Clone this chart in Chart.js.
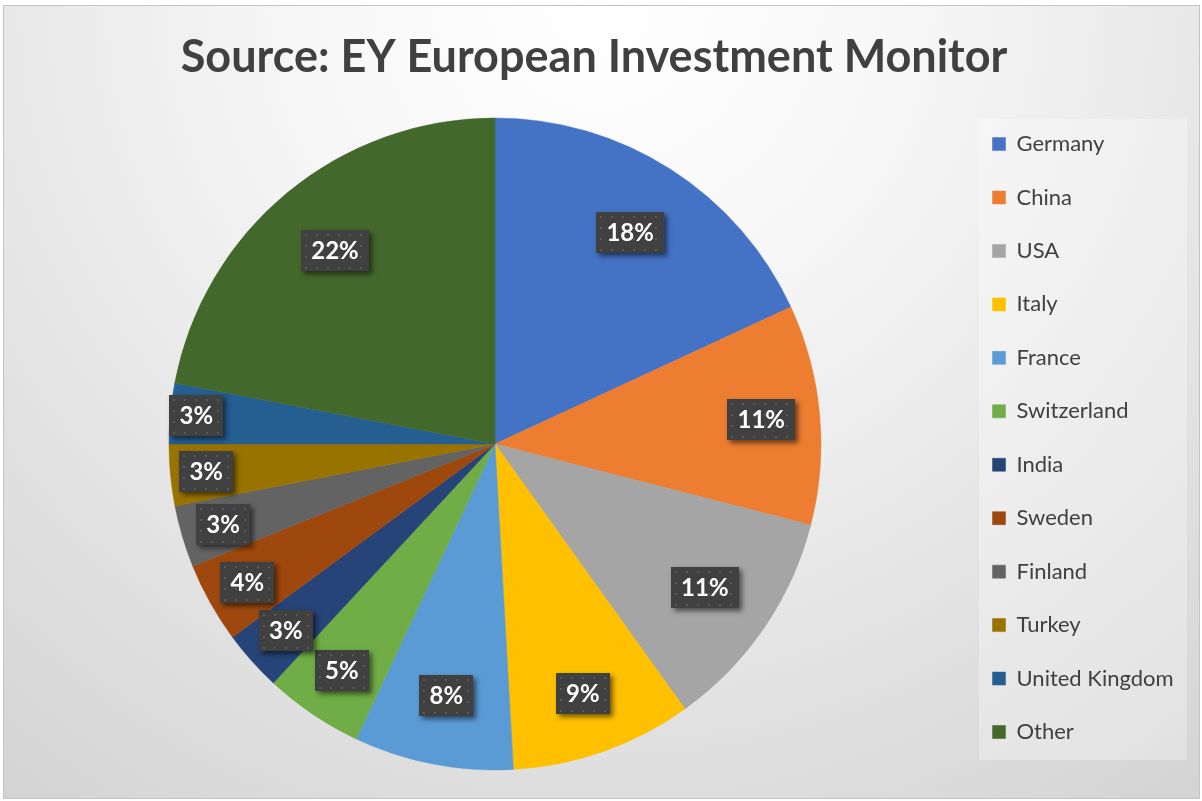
<!DOCTYPE html>
<html><head><meta charset="utf-8">
<script src="https://cdn.jsdelivr.net/npm/chart.js@4.4.1/dist/chart.umd.min.js"></script>
<style>html,body{margin:0;padding:0;background:#fff;overflow:hidden}canvas{display:block}</style>
</head><body>
<canvas id="c" width="1202" height="801"></canvas>
<script>
const titleText = 'Source: EY European Investment Monitor';
const countries = ['Germany','China','USA','Italy','France','Switzerland','India','Sweden','Finland','Turkey','United Kingdom','Other'];
const shares = [18.1, 10.9, 11.1, 9.0, 7.9, 4.9, 3.0, 4.0, 3.05, 3.05, 3.0, 22.0];
const sliceColors = ['#4472C4','#ED7D31','#A5A5A5','#FFC000','#5B9BD5','#70AD47','#264478','#9E480E','#636363','#997300','#255E91','#43682B'];
const labelRadius = [0.77, 0.82, 0.78, 0.81, 0.785, 0.84, 0.86, 0.87, 0.87, 0.89, 0.92, 0.77];

const bgPlugin = {
  id: 'bg',
  afterLayout(chart) {
    // let legend text run past the narrow layout box without being clipped
    if (chart.legend) { chart.legend.right = chart.width - 4; }
  },
  beforeDraw(chart) {
    const ctx = chart.ctx;
    ctx.save();
    ctx.fillStyle = '#ffffff';
    ctx.fillRect(0, 0, chart.width, chart.height);
    const g = ctx.createRadialGradient(600, 0, 0, 600, 0, 1000);
    g.addColorStop(0, '#ffffff');
    g.addColorStop(0.3, '#f7f7f7');
    g.addColorStop(1, '#d3d3d3');
    ctx.fillStyle = g;
    ctx.fillRect(4, 6, 1195, 792);
    ctx.strokeStyle = '#c4c4c4';
    ctx.lineWidth = 1;
    ctx.strokeRect(3.5, 5.5, 1196, 793);
    ctx.fillStyle = 'rgba(255,255,255,0.3)';
    ctx.fillRect(979, 119, 208, 641);
    ctx.restore();
  }
};

const labelPlugin = {
  id: 'pctLabels',
  afterDatasetsDraw(chart) {
    const ctx = chart.ctx;
    const meta = chart.getDatasetMeta(0);
    const data = chart.data.datasets[0].data;
    const total = data.reduce((a, b) => a + b, 0);
    ctx.save();
    ctx.font = 'bold 24px Lato';
    meta.data.forEach((arc, i) => {
      const p = arc.getProps(['x','y','startAngle','endAngle','outerRadius'], true);
      const mid = (p.startAngle + p.endAngle) / 2;
      const r = p.outerRadius * labelRadius[i];
      const cx = p.x + Math.cos(mid) * r, cy = p.y + Math.sin(mid) * r;
      const txt = Math.round(data[i] / total * 100) + '%';
      const w = Math.round(ctx.measureText(txt).width + 20), h = 41;
      const x0 = Math.round(cx - w / 2), y0 = Math.round(cy - h / 2);
      ctx.save();
      ctx.shadowColor = 'rgba(0,0,0,0.55)';
      ctx.shadowBlur = 5; ctx.shadowOffsetX = 3; ctx.shadowOffsetY = 3;
      ctx.fillStyle = '#404040';
      ctx.fillRect(x0, y0, w, h);
      ctx.restore();
      ctx.fillStyle = '#595959';
      for (let yy = y0 + 4; yy < y0 + h - 1; yy += 11)
        for (let xx = x0 + 4; xx < x0 + w - 1; xx += 11) ctx.fillRect(xx, yy, 2, 2);
      ctx.fillStyle = '#ffffff';
      ctx.textAlign = 'center';
      ctx.textBaseline = 'middle';
      ctx.fillText(txt, cx, y0 + h / 2 + 1);
    });
    ctx.restore();
  }
};

new Chart(document.getElementById('c'), {
  type: 'pie',
  data: {
    labels: countries,
    datasets: [{ data: shares, backgroundColor: sliceColors, borderColor: sliceColors, borderWidth: 0.5, radius: 326 }]
  },
  options: {
    responsive: false,
    animation: false,
    events: [],
    layout: { padding: { left: 28.95, right: 42.95, top: 10, bottom: 14.6 } },
    plugins: {
      title: {
        display: true, text: titleText, color: '#404040',
        font: { family: 'Lato', size: 45, weight: 'bold', lineHeight: 1.2 },
        padding: { top: 20, bottom: 17.6 }
      },
      legend: {
        position: 'right', align: 'start', fullSize: false, maxWidth: 198,
        labels: { boxWidth: 13, boxHeight: 13, padding: 31.45, color: '#404040', font: { family: 'Lato', size: 22 } }
      },
      tooltip: { enabled: false }
    }
  },
  plugins: [bgPlugin, labelPlugin]
});
</script>
</body></html>
